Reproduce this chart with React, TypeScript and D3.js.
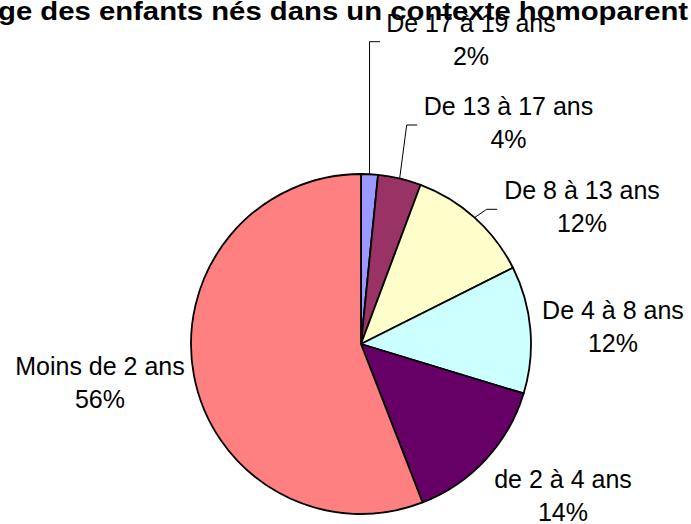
import React, { useLayoutEffect, useRef, useState } from "react";
import * as d3 from "d3";

const categories = [
  "De 17 à 19 ans",
  "De 13 à 17 ans",
  "De 8 à 13 ans",
  "De 4 à 8 ans",
  "de 2 à 4 ans",
  "Moins de 2 ans",
];
const values = [1.6, 4.1, 11.9, 12.1, 14.4, 55.9];
const colors = ["#9999FF", "#993366", "#FFFFCC", "#CCFFFF", "#660066", "#FF8080"];
const title = "Âge des enfants nés dans un contexte homoparental";

// label layout (center x, first-line baseline y) and leader elbows
const labelPos = [
  { x: 471, y: 32, elbow: { x: null as number | null, y: 41.7 } },
  { x: 508.5, y: 115, elbow: { x: 406.7, y: 125 } },
  { x: 582, y: 199, elbow: { x: 486.7, y: 209.3 } },
  { x: 613, y: 319, elbow: null },
  { x: 563, y: 488, elbow: null },
  { x: 100, y: 375, elbow: null },
];

const W = 691;
const H = 524;
const cx = 361;
const cy = 344;
const R = 170;

export default function App() {
  const titleRef = useRef<SVGTextElement>(null);
  const [titleTf, setTitleTf] = useState("translate(-24,20) scale(1.15,1)");
  const [clipX, setClipX] = useState(W);

  useLayoutEffect(() => {
    const el = titleRef.current;
    if (!el) return;
    try {
      const gIdx = title.indexOf("g");
      const tIdx = title.lastIndexOf("t");
      const gStart = el.getStartPositionOfChar(gIdx).x;
      const tEnd = el.getEndPositionOfChar(tIdx).x;
      // map visible span "ge ... homoparent" onto x = -2 .. 688
      const sx = 690 / (tEnd - gStart);
      const tx = -2 - sx * gStart;
      setTitleTf(`translate(${tx},20) scale(${sx},1)`);
      setClipX(688.5);
    } catch (e) {
      /* keep default */
    }
  }, []);

  const total = d3.sum(values);
  const pie = d3
    .pie<number>()
    .sort(null)
    .value((d) => d)
    .startAngle(0)
    .endAngle(2 * Math.PI);
  const arcs = pie(values);
  const arc = d3.arc<d3.PieArcDatum<number>>().innerRadius(0).outerRadius(R);
  const font = "'Liberation Sans', Arial, sans-serif";

  return (
    <svg
      width={W}
      height={H}
      style={{ position: "absolute", left: 0, top: 0, background: "#fff" }}
    >
      <defs>
        <clipPath id="titleClip">
          <rect x={0} y={0} width={clipX} height={40} />
        </clipPath>
      </defs>
      <rect x={0} y={0} width={W} height={H} fill="#fff" />
      <g transform={`translate(${cx},${cy})`}>
        {arcs.map((a, i) => (
          <path
            key={i}
            d={arc(a) || ""}
            fill={colors[i]}
            stroke="#000"
            strokeWidth={1.8}
            strokeLinejoin="round"
          />
        ))}
      </g>
      {arcs.map((a, i) => {
        const lp = labelPos[i];
        if (!lp.elbow) return null;
        const mid = (a.startAngle + a.endAngle) / 2;
        const ex = cx + R * Math.sin(mid);
        const ey = cy - R * Math.cos(mid);
        const bx = lp.elbow.x === null ? ex : lp.elbow.x;
        const by = lp.elbow.y;
        const pts = [
          [ex, ey],
          [bx, by],
          [bx + 10.5, by],
        ];
        return (
          <polyline
            key={"l" + i}
            points={pts.map((p) => p.join(",")).join(" ")}
            fill="none"
            stroke="#000"
            strokeWidth={1}
          />
        );
      })}
      {arcs.map((a, i) => {
        const lp = labelPos[i];
        const pct = Math.round((values[i] / total) * 100) + "%";
        return (
          <text
            key={"t" + i}
            x={lp.x}
            y={lp.y}
            textAnchor="middle"
            fontFamily={font}
            fontSize={25}
            fill="#000"
          >
            <tspan x={lp.x} y={lp.y}>
              {categories[i]}
            </tspan>
            <tspan x={lp.x} y={lp.y + 33}>
              {pct}
            </tspan>
          </text>
        );
      })}
      <g clipPath="url(#titleClip)">
        <g transform={titleTf}>
          <text
            ref={titleRef}
            x={0}
            y={0}
            fontFamily={font}
            fontWeight="bold"
            fontSize={26}
            fill="#000"
          >
            {title}
          </text>
        </g>
      </g>
    </svg>
  );
}
